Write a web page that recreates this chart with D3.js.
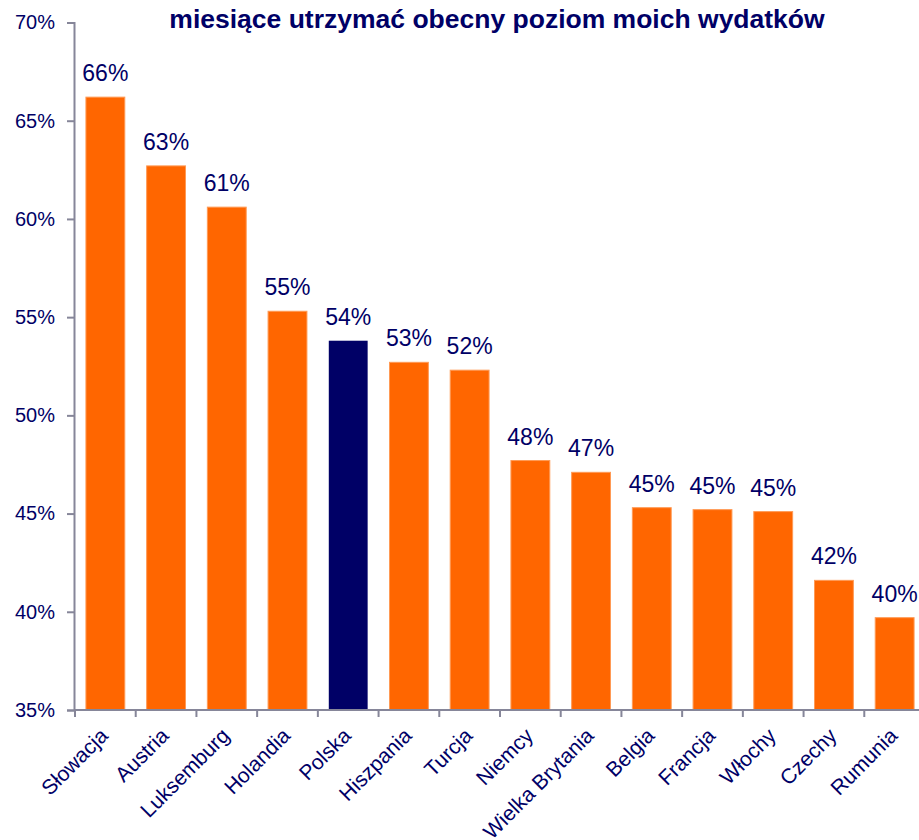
<!DOCTYPE html>
<html>
<head>
<meta charset="utf-8">
<script src="https://cdn.jsdelivr.net/npm/d3@7"></script>
<style>
  body { margin: 0; background: #fff; }
  text { font-family: "Liberation Sans", Arial, sans-serif; }
</style>
</head>
<body>
<div id="chart"></div>
<script>
// chart data
var countries = ["Słowacja", "Austria", "Luksemburg", "Holandia", "Polska", "Hiszpania", "Turcja",
                 "Niemcy", "Wielka Brytania", "Belgia", "Francja", "Włochy", "Czechy", "Rumunia"];
var values = [66.2, 62.7, 60.6, 55.3, 53.8, 52.7, 52.3, 47.7, 47.1, 45.3, 45.2, 45.1, 41.6, 39.7];
var yTicks = [35, 40, 45, 50, 55, 60, 65, 70];
var highlight = "Polska";
var title = "miesiące utrzymać obecny poziom moich wydatków";

var width = 919, height = 840;
var navy = "#000066", orange = "#FF6600", axisColor = "#868699";

var svg = d3.select("#chart").append("svg")
    .attr("width", width).attr("height", height);

// plot goes past the right edge like in the original
var x = d3.scaleBand().domain(countries).range([75, 925]).paddingInner(0.36).paddingOuter(0.18);
var y = d3.scaleLinear().domain([35, 70]).range([710, 22.5]);

// title
svg.append("text")
    .attr("x", 497).attr("y", 28)
    .attr("text-anchor", "middle")
    .style("font-size", "26.5px").style("font-weight", "bold")
    .style("fill", navy)
    .text(title);

// bars
svg.append("g").selectAll("rect")
    .data(countries).enter()
    .append("rect")
    .attr("x", d => x(d))
    .attr("width", x.bandwidth())
    .attr("y", (d, i) => y(values[i]))
    .attr("height", (d, i) => y(35) - y(values[i]))
    .attr("fill", d => d == highlight ? navy : orange)
    .attr("stroke", d => d == highlight ? "none" : "#ff9a55")
    .attr("stroke-width", 1);

// value labels
svg.append("g").selectAll("text")
    .data(countries).enter()
    .append("text")
    .attr("x", d => x(d) + x.bandwidth() / 2)
    .attr("y", (d, i) => y(values[i]) - 16)
    .attr("text-anchor", "middle")
    .style("font-size", "23px")
    .style("fill", navy)
    .text((d, i) => Math.round(values[i]) + "%");

// y axis
var yAxis = svg.append("g").attr("transform", "translate(74,0)")
    .call(d3.axisLeft(y).tickValues(yTicks).tickSize(7).tickPadding(12).tickFormat(d => d + "%"));
yAxis.select(".domain").attr("stroke", axisColor).attr("stroke-width", 2);
yAxis.selectAll(".tick line").attr("stroke", axisColor).attr("stroke-width", 2);
yAxis.selectAll(".tick text")
    .style("font-size", "20px").style("fill", navy)
    .attr("font-family", null);

// x axis, ticks between the bars
var step = x.step();
var xAxis = svg.append("g").attr("transform", "translate(0,710)");
xAxis.append("line")
    .attr("x1", 74).attr("x2", width)
    .attr("stroke", axisColor).attr("stroke-width", 2);
xAxis.selectAll(".xtick")
    .data(countries).enter()
    .append("line")
    .attr("x1", (d, i) => 75 + i * step).attr("x2", (d, i) => 75 + i * step)
    .attr("y1", 0).attr("y2", 7)
    .attr("stroke", axisColor).attr("stroke-width", 2);
xAxis.selectAll(".xlabel")
    .data(countries).enter()
    .append("text")
    .attr("text-anchor", "end")
    .attr("transform", d => "translate(" + (x(d) + x.bandwidth() / 2 + 4) + ",27) rotate(-45)")
    .style("font-size", "21px")
    .style("fill", navy)
    .text(d => d);
</script>
</body>
</html>
